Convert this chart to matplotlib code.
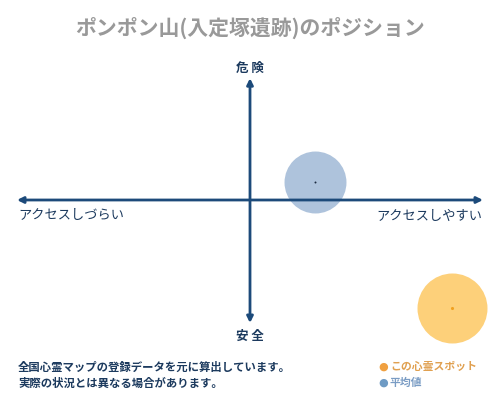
import matplotlib
matplotlib.use("Agg")
import matplotlib.pyplot as plt

plt.rcParams['font.family'] = ['Noto Sans CJK JP', 'DejaVu Sans']

title = "ポンポン山(入定塚遺跡)のポジション"
x_labels = ["アクセスしづらい", "アクセスしやすい"]
y_labels = ["安 全", "危 険"]
series_names = ["この心霊スポット", "平均値"]
series_x = [8.67, 2.8]
series_y = [-9.0, 1.5]
footer = ["全国心霊マップの登録データを元に算出しています。", "実際の状況とは異なる場合があります。"]

navy = "#1c4a7a"
fill_colors = ["#fdd07a", "#aec3dc"]
dot_colors = ["#f0a020", "#1a2a40"]
legend_dot = ["#f0a040", "#6f9bc4"]
legend_text = ["#e0a050", "#7a9cc4"]

fig = plt.figure(figsize=(5, 4), dpi=100)
ax = fig.add_axes([0, 0, 1, 1])
ax.set_xlim(-250 / 23.3, 250 / 23.3)
ax.set_ylim(-200 / 12.0, 200 / 12.0)
ax.axis('off')

sizes = [2540, 1990]
for i in range(2):
    ax.scatter(series_x[i], series_y[i], s=sizes[i], color=fill_colors[i], zorder=2, linewidths=0)

ax.annotate("", xy=(10, 0), xytext=(-10, 0),
            arrowprops=dict(arrowstyle="<|-|>", color=navy, lw=2, mutation_scale=9, shrinkA=0, shrinkB=0), zorder=3)
ax.annotate("", xy=(0, 10.15), xytext=(0, -10.25),
            arrowprops=dict(arrowstyle="<|-|>", color=navy, lw=2, mutation_scale=9, shrinkA=0, shrinkB=0), zorder=3)

for i in range(2):
    ax.scatter(series_x[i], series_y[i], s=5 if i == 0 else 2, color=dot_colors[i], zorder=4, linewidths=0)

fig.text(0.5, 1 - 28 / 400, title, ha='center', va='center', fontsize=15, color='#999999', fontweight='bold')
fig.text(0.5, 1 - 68 / 400, y_labels[1], ha='center', va='center', fontsize=9, color='#1c3a5e', fontweight='bold')
fig.text(0.5, 1 - 336 / 400, y_labels[0], ha='center', va='center', fontsize=9, color='#1c3a5e', fontweight='bold')
fig.text(18 / 500, 1 - 216 / 400, x_labels[0], ha='left', va='center', fontsize=9.5, color='#1c3a5e')
fig.text(482 / 500, 1 - 216 / 400, x_labels[1], ha='right', va='center', fontsize=9.5, color='#1c3a5e')

fig.text(18 / 500, 1 - 367 / 400, footer[0], ha='left', va='center', fontsize=8.2, color='#1c3a5e', fontweight='bold')
fig.text(18 / 500, 1 - 383 / 400, footer[1], ha='left', va='center', fontsize=8.2, color='#1c3a5e', fontweight='bold')

for i, yy in enumerate([367, 383]):
    fig.text(378 / 500, 1 - yy / 400, "●", ha='left', va='center', fontsize=8, color=legend_dot[i],
             family=['DejaVu Sans'])
    fig.text(390 / 500, 1 - yy / 400, series_names[i], ha='left', va='center', fontsize=7.8, color=legend_text[i],
             fontweight='bold')

fig.savefig("out.png", dpi=100)
